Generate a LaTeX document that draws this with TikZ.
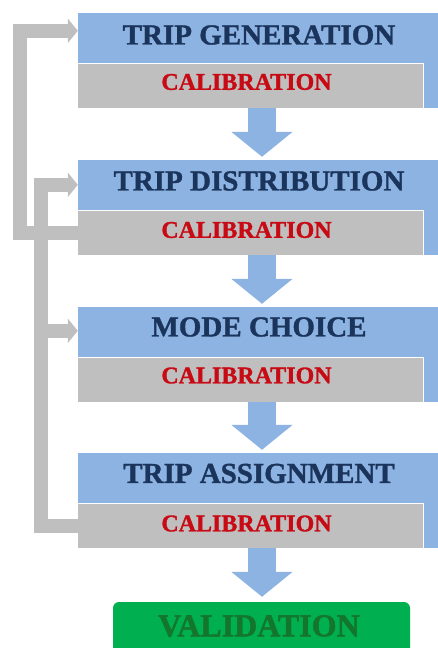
\documentclass[tikz,border=0pt]{standalone}
\usepackage{fontspec}
\setmainfont[BoldFeatures={FakeBold=1.2}]{Liberation Serif}
\usetikzlibrary{arrows.meta}

\definecolor{stageblue}{RGB}{141,179,226}
\definecolor{calgray}{RGB}{191,191,191}
\definecolor{titlenavy}{RGB}{26,52,92}
\definecolor{calred}{RGB}{200,10,20}
\definecolor{valgreen}{RGB}{0,176,80}
\definecolor{valtext}{RGB}{20,118,44}

\begin{document}
\begin{tikzpicture}[x=1pt,y=-1pt,
  bluebox/.style={rectangle, fill=stageblue, draw=none, inner sep=0pt,
    minimum width=360pt, minimum height=95pt},
  calbox/.style={rectangle, fill=calgray, draw=none, inner sep=0pt,
    minimum width=345pt, minimum height=44pt},
  caledge/.style={draw=white, line width=1.2pt},
  titletext/.style={inner sep=0pt, text=titlenavy, font=\fontsize{29}{30}\selectfont\bfseries},
  caltext/.style={inner sep=0pt, text=calred, font=\fontsize{24}{25}\selectfont\bfseries},
  valbox/.style={rectangle, rounded corners=6pt, fill=valgreen, draw=none, inner sep=0pt,
    minimum width=297pt, minimum height=54pt},
  valtextstyle/.style={inner sep=0pt, text=valtext, font=\fontsize{32}{33}\selectfont\bfseries},
  flowarrow/.style={draw=stageblue, line width=28pt,
    -{Triangle[width=60pt,length=25pt]}, shorten >=3pt},
  loopline/.style={draw=calgray, line width=14pt, line join=miter,
    -{Triangle[width=24pt,length=10pt]}}
]
\useasboundingbox (0,0) rectangle (438,648);
\clip (0,0) rectangle (438,648);

% model stages: blue stage block with a grey calibration strip
\node[bluebox] (b1) at (258,60.5) {};
\node[calbox]  (g1) at (250.5,86) {};
\node[titletext] (t1) at (259,35) {TRIP GENERATION};
\node[caltext] (c1) at (246.5,82) {CALIBRATION};

\node[bluebox] (b2) at (258,207.5) {};
\node[calbox]  (g2) at (250.5,233) {};
\node[titletext] (t2) at (259,181) {TRIP DISTRIBUTION};
\node[caltext] (c2) at (246.5,230) {CALIBRATION};

\node[bluebox] (b3) at (258,354.5) {};
\node[calbox]  (g3) at (250.5,380) {};
\node[titletext] (t3) at (259,327) {MODE CHOICE};
\node[caltext] (c3) at (246.5,375.5) {CALIBRATION};

\node[bluebox] (b4) at (258,500.5) {};
\node[calbox]  (g4) at (250.5,526) {};
\node[titletext] (t4) at (259,473.5) {TRIP ASSIGNMENT};
\node[caltext] (c4) at (246.5,523.5) {CALIBRATION};

% light edge along the top and right of each calibration strip
\foreach \g in {g1,g2,g3,g4}
  \draw[caledge] (\g.north west) -- (\g.north east) -- (\g.south east);

\node[valbox] (v) at (261.5,629) {};
\node[valtextstyle] (vt) at (259,626) {VALIDATION};

% flow between stages
\coordinate (ax) at (262,0);
\draw[flowarrow] (ax |- g1.south) -- (ax |- b2.north);
\draw[flowarrow] (ax |- g2.south) -- (ax |- b3.north);
\draw[flowarrow] (ax |- g3.south) -- (ax |- b4.north);
\draw[flowarrow,shorten >=5pt] (ax |- g4.south) -- (ax |- v.north);

% feedback loops
\coordinate (ox) at (20,0);
\coordinate (ix) at (41,0);
\coordinate (e1) at ([yshift=-18pt]b1.north west);
\coordinate (e2) at ([yshift=-25pt]b2.north west);
\coordinate (e3) at ([yshift=-24pt]b3.north west);
\draw[loopline] (g2.west) -- (ox |- g2.west) -- (ox |- e1) -- (e1);
\draw[loopline] (g4.west) -- (ix |- g4.west) -- (ix |- e2) -- (e2);
\draw[loopline] (ix |- e3) -- (e3);
\end{tikzpicture}
\end{document}
